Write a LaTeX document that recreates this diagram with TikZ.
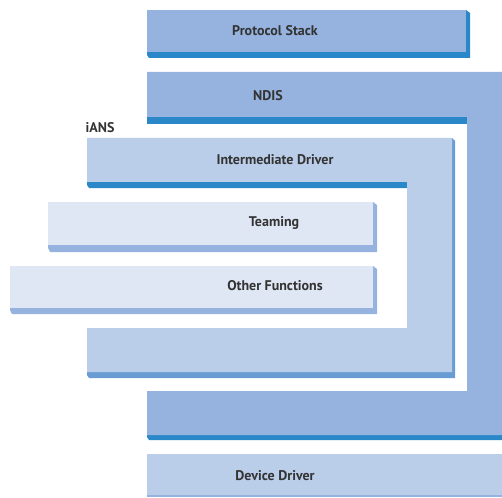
\documentclass[tikz,border=0pt]{standalone}
\usepackage{fontspec}
\setmainfont{PT Sans}
\usepackage{tikz}
\usepackage{xcolor}
\definecolor{midblue}{HTML}{95B3DE}
\definecolor{darkblue}{HTML}{2A87C8}
\definecolor{paleblue}{HTML}{BACDE9}
\definecolor{shadeblue}{HTML}{6A9CD4}
\definecolor{lightblue}{HTML}{DFE6F4}
\definecolor{labelgray}{HTML}{333333}

\begin{document}
\begin{tikzpicture}[x=0.5pt,y=-0.5pt,
    lbl/.style={font=\fontsize{7}{8}\selectfont\bfseries, text=labelgray, inner sep=0pt}]
    \useasboundingbox (0,0) rectangle (502,497);
    % Protocol Stack
    \fill[darkblue] (147,12)--(466,10)--(470,13)--(470,58)--(149,58)--(147,55)--cycle;
    \fill[midblue] (147,10) rectangle (466,52);
    \node[lbl] (proto) at (275,31) {Protocol Stack};
    % NDIS
    \fill[darkblue] (147,117) rectangle (467,124);
    \fill[darkblue] (147,435)--(502,435)--(502,440)--(149,440)--(147,437)--cycle;
    \fill[midblue] (147,72)--(502,72)--(502,435)--(147,435)--(147,391)--(467,391)--(467,117)--(147,117)--cycle;
    \node[lbl] (ndis) at (268,96) {NDIS};
    % iANS
    \node[lbl] (ians) at (100,128) {iANS};
    \fill[darkblue] (87,182)--(407,182)--(407,188)--(89,188)--(87,185)--cycle;
    \fill[shadeblue] (452,138)--(455,141)--(455,378)--(89,378)--(87,375)--(87,372)--(452,372)--cycle;
    \fill[paleblue] (87,138)--(452,138)--(452,372)--(87,372)--(87,328)--(407,328)--(407,182)--(87,182)--cycle;
    \node[lbl] (inter) at (275,160) {Intermediate Driver};
    % Teaming
    \fill[midblue] (373,202)--(377,205)--(377,252)--(50,252)--(48,248)--(48,245)--(373,245)--cycle;
    \fill[lightblue] (48,202) rectangle (373,245);
    \node[lbl] (team) at (274,223) {Teaming};
    % Other Functions
    \fill[midblue] (373,266)--(377,269)--(377,314)--(12,314)--(10,310)--(10,308)--(373,308)--cycle;
    \fill[lightblue] (10,266) rectangle (373,308);
    \node[lbl] (other) at (275,286) {Other Functions};
    % Device Driver
    \fill[paleblue] (147,454) rectangle (502,497);
    \fill[midblue] (147,495) rectangle (502,497);
    \node[lbl] (dev) at (275,476) {Device Driver};
\end{tikzpicture}
\end{document}
